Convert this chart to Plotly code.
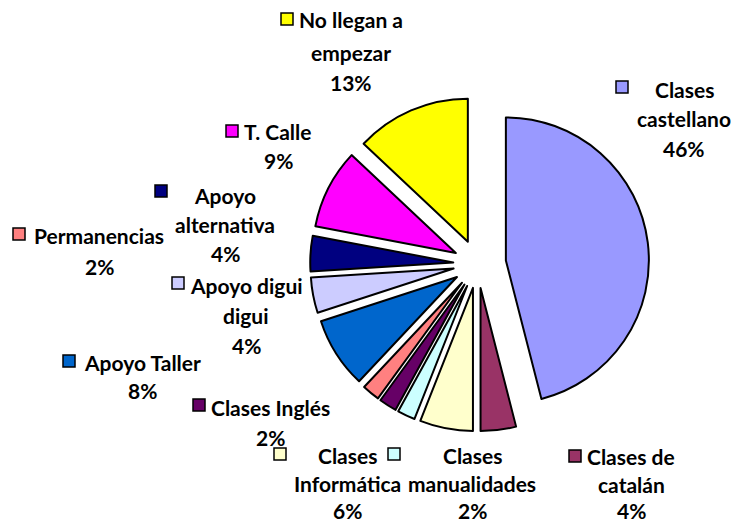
import plotly.graph_objects as go

# ---- data ----
categories = ["Clases castellano", "Clases de catalán", "Clases Informática",
              "Clases manualidades", "Clases Inglés", "Permanencias",
              "Apoyo Taller", "Apoyo digui digui", "Apoyo alternativa",
              "T. Calle", "No llegan a empezar"]
values = [46, 4, 6, 2, 2, 2, 8, 4, 4, 9, 13]
colors = ["#9999FF", "#993366", "#FFFFCC", "#CCFFFF", "#660066", "#FF8080",
          "#0066CC", "#CCCCFF", "#000080", "#FF00FF", "#FFFF00"]

# ---- layout / style (label wrapping and placement in pixels) ----
W, H = 731, 524
wrapped = [["Clases", "castellano"], ["Clases de", "catalán"], ["Clases", "Informática"],
           ["Clases", "manualidades"], ["Clases Inglés"], ["Permanencias"],
           ["Apoyo Taller"], ["Apoyo digui", "digui"], ["Apoyo", "alternativa"],
           ["T. Calle"], ["No llegan a", "empezar"]]
label_cx = [684, 631, 347, 472, 270, 99, 142, 246, 225, 278, 351]
label_ys = [[89, 119, 148], [456, 484, 510], [455, 483, 510], [455, 483, 510],
            [407, 437], [235, 266], [362, 390], [285, 315, 345], [195, 224, 253],
            [131, 160], [20, 52, 83]]
square_xy = [(622, 87), (575, 456), (280, 454), (394, 454), (199, 405), (19, 234),
             (69, 361), (178, 283), (161, 191), (232, 131), (287, 19)]
pulls = [0.2, 0.17, 0.17, 0.17, 0.17, 0.17, 0.17, 0.17, 0.17, 0.17, 0.17]

fig = go.Figure(go.Pie(
    labels=categories, values=values, sort=False, direction="clockwise",
    rotation=0, pull=pulls, textinfo="none", hoverinfo="label+percent",
    marker=dict(colors=colors, line=dict(color="black", width=2)),
    domain=dict(x=[305.9 / W, 649.1 / W], y=[88.4 / H, 431.6 / H]),
    showlegend=False,
))

total = sum(values)
annotations = []
shapes = []
font = dict(family="Lato, Open Sans, sans-serif", size=21, color="black", weight="bold")
for i, cat in enumerate(categories):
    pct = f"{round(100 * values[i] / total)}%"
    lines = wrapped[i] + [pct]
    for line, y in zip(lines, label_ys[i]):
        annotations.append(dict(x=label_cx[i] / W, y=1 - y / H, xref="paper", yref="paper",
                                text=line, showarrow=False, xanchor="center",
                                yanchor="middle", borderpad=0, font=font))
    sx, sy = square_xy[i]
    shapes.append(dict(type="rect", xref="paper", yref="paper",
                       x0=(sx - 6) / W, x1=(sx + 6) / W,
                       y0=1 - (sy + 6) / H, y1=1 - (sy - 6) / H,
                       fillcolor=colors[i], line=dict(color="black", width=1.5)))

fig.update_layout(width=W, height=H, margin=dict(l=0, r=0, t=0, b=0),
                  paper_bgcolor="white", plot_bgcolor="white",
                  annotations=annotations, shapes=shapes)
fig.write_html("out.html", config={"displayModeBar": False},
               post_script="document.body.style.margin='0';document.body.style.overflow='hidden';")
